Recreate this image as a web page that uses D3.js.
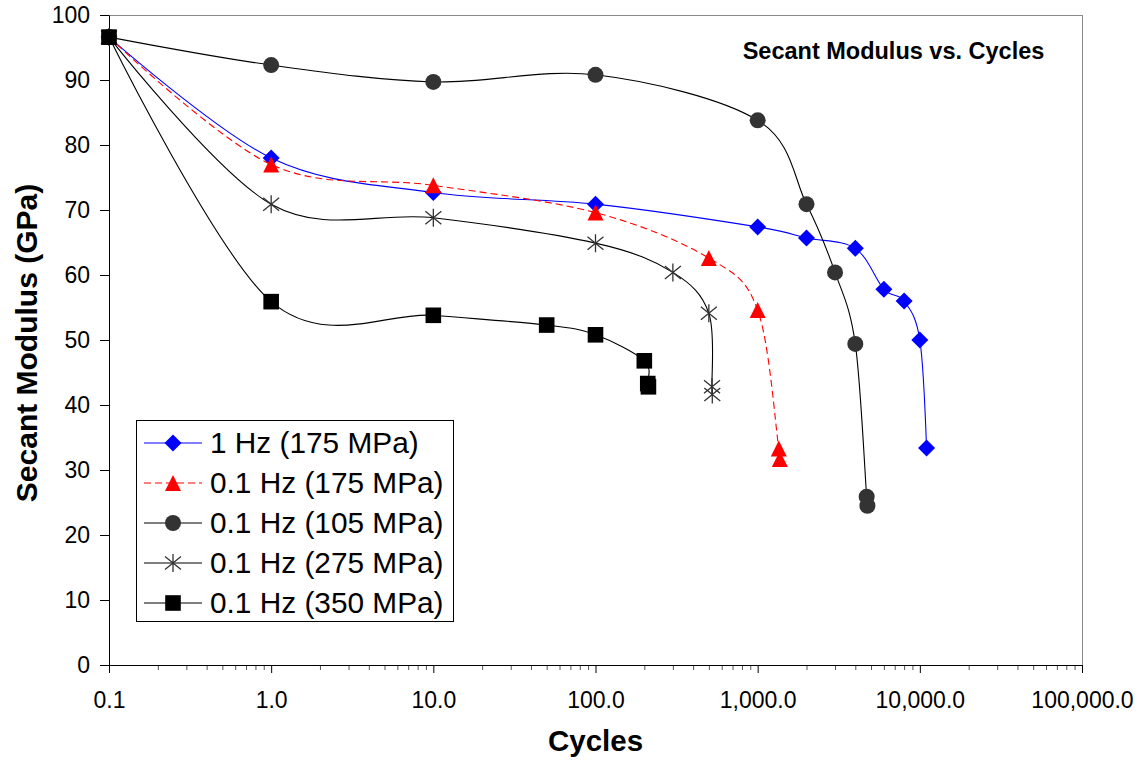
<!DOCTYPE html>
<html>
<head>
<meta charset="utf-8">
<script src="https://cdn.jsdelivr.net/npm/d3@7"></script>
<style>
  body { margin: 0; background: #fff; }
  svg { display: block; font-family: "Liberation Sans", Arial, sans-serif; }
</style>
</head>
<body>
<svg id="chart" width="1142" height="763"></svg>
<script>
// cycles and secant modulus (GPa) for each test condition
const cycles1Hz175 = [0.1, 1, 10, 100, 1000, 2000, 4000, 6000, 8000, 10000, 11000];
const modulus1Hz175 = [96.6, 78.0, 72.7, 70.9, 67.4, 65.7, 64.1, 57.8, 56.0, 50.0, 33.4];

const cycles01Hz175 = [0.1, 1, 10, 100, 500, 1000, 1350, 1370];
const modulus01Hz175 = [96.6, 77.0, 73.8, 69.6, 62.6, 54.6, 33.3, 31.7];

const cycles01Hz105 = [0.1, 1, 10, 100, 1000, 2000, 3000, 4000, 4700, 4750];
const modulus01Hz105 = [96.6, 92.3, 89.7, 90.8, 83.8, 70.9, 60.4, 49.4, 25.9, 24.5];

const cycles01Hz275 = [0.1, 1, 10, 100, 300, 500, 523, 525];
const modulus01Hz275 = [96.6, 70.9, 68.8, 64.9, 60.4, 54.1, 42.8, 41.6];

const cycles01Hz350 = [0.1, 1, 10, 50, 100, 200, 210, 212];
const modulus01Hz350 = [96.6, 55.9, 53.8, 52.3, 50.8, 46.8, 43.3, 42.8];

const xTickValues = [0.1, 1, 10, 100, 1000, 10000, 100000];
const yTickValues = [0, 10, 20, 30, 40, 50, 60, 70, 80, 90, 100];

const series = [
  { name: "1 Hz (175 MPa)", x: cycles1Hz175, y: modulus1Hz175, stroke: "#0000ff", dash: null, marker: "diamond", fill: "#0000ff" },
  { name: "0.1 Hz (175 MPa)", x: cycles01Hz175, y: modulus01Hz175, stroke: "#ff0000", dash: "7,4", marker: "triangle", fill: "#ff0000" },
  { name: "0.1 Hz (105 MPa)", x: cycles01Hz105, y: modulus01Hz105, stroke: "#000", dash: null, marker: "circle", fill: "#333" },
  { name: "0.1 Hz (275 MPa)", x: cycles01Hz275, y: modulus01Hz275, stroke: "#000", dash: null, marker: "asterisk", fill: "#333" },
  { name: "0.1 Hz (350 MPa)", x: cycles01Hz350, y: modulus01Hz350, stroke: "#000", dash: null, marker: "square", fill: "#000" }
];

const svg = d3.select("#chart");
const plot = { left: 109, right: 1082, top: 15, bottom: 665 };

const x = d3.scaleLog().domain([0.1, 100000]).range([plot.left, plot.right]);
const y = d3.scaleLinear().domain([0, 100]).range([plot.bottom, plot.top]);

// plot area frame
svg.append("rect")
  .attr("x", plot.left + 0.5)
  .attr("y", plot.top + 0.5)
  .attr("width", plot.right - plot.left)
  .attr("height", plot.bottom - plot.top)
  .attr("fill", "none")
  .attr("stroke", "#888");

// minor ticks on the log axis
const minorTicks = [];
for (let d = 0.1; d < 100000; d *= 10) {
  for (let k = 2; k <= 9; k++) minorTicks.push(d * k);
}
svg.append("g")
  .attr("transform", `translate(0,${plot.bottom})`)
  .call(d3.axisBottom(x).tickValues(minorTicks).tickSize(5).tickSizeOuter(0).tickFormat(""))
  .call(g => g.select(".domain").remove())
  .call(g => g.selectAll("line").attr("stroke", "#555"));

const xAxis = svg.append("g")
  .attr("transform", `translate(0,${plot.bottom})`)
  .call(d3.axisBottom(x).tickValues(xTickValues).tickSize(8).tickSizeOuter(0)
    .tickPadding(19).tickFormat(d3.format(",.1f")));
xAxis.selectAll("text").attr("font-size", "23px").attr("fill", "#000").attr("font-family", null);
xAxis.selectAll("line, path").attr("stroke", "#000");

const yAxis = svg.append("g")
  .attr("transform", `translate(${plot.left},0)`)
  .call(d3.axisLeft(y).tickValues(yTickValues).tickSize(9).tickSizeOuter(0).tickPadding(10));
yAxis.selectAll("text").attr("font-size", "23px").attr("fill", "#000").attr("font-family", null);
yAxis.selectAll("line, path").attr("stroke", "#000");

// marker shapes, centred on the origin
function drawMarker(g, type, fill) {
  if (type === "circle") {
    g.append("circle").attr("r", 8).attr("fill", fill);
  } else if (type === "square") {
    g.append("rect").attr("x", -7.8).attr("y", -7.8).attr("width", 15.6).attr("height", 15.6).attr("fill", fill);
  } else if (type === "diamond") {
    g.append("path").attr("d", "M0,-8.5L8.5,0L0,8.5L-8.5,0Z").attr("fill", fill);
  } else if (type === "triangle") {
    g.append("path").attr("d", "M0,-8L8,8L-8,8Z").attr("fill", fill);
  } else if (type === "asterisk") {
    g.append("path")
      .attr("d", "M0,-9L0,9M-8,-6.5L8,6.5M-8,6.5L8,-6.5")
      .attr("fill", "none")
      .attr("stroke", fill)
      .attr("stroke-width", 1.3);
  }
}

const line = d3.line()
  .x(d => x(d[0]))
  .y(d => y(d[1]))
  .curve(d3.curveCardinal.tension(0));

series.forEach(s => {
  const pts = s.x.map((c, i) => [c, s.y[i]]);
  const g = svg.append("g");
  g.append("path")
    .datum(pts)
    .attr("d", line)
    .attr("fill", "none")
    .attr("stroke", s.stroke)
    .attr("stroke-width", 1.1)
    .attr("stroke-dasharray", s.dash);
  pts.forEach(p => {
    const m = g.append("g").attr("transform", `translate(${x(p[0])},${y(p[1])})`);
    drawMarker(m, s.marker, s.fill);
  });
});

// title
svg.append("text")
  .attr("x", 893.5)
  .attr("y", 59)
  .attr("text-anchor", "middle")
  .attr("font-weight", "bold")
  .attr("font-size", "23.5px")
  .text("Secant Modulus vs. Cycles");

// axis titles
svg.append("text")
  .attr("x", (plot.left + plot.right) / 2)
  .attr("y", 751)
  .attr("text-anchor", "middle")
  .attr("font-weight", "bold")
  .attr("font-size", "29.5px")
  .text("Cycles");

svg.append("text")
  .attr("transform", "translate(37,343) rotate(-90)")
  .attr("text-anchor", "middle")
  .attr("font-weight", "bold")
  .attr("font-size", "30px")
  .text("Secant Modulus (GPa)");

// legend
const legend = svg.append("g");
legend.append("rect")
  .attr("x", 136.5).attr("y", 420.5)
  .attr("width", 317).attr("height", 201)
  .attr("fill", "#fff").attr("stroke", "#000");

series.forEach((s, i) => {
  const base = 453 + i * 40;
  const cy = base - 10;
  legend.append("line")
    .attr("x1", 144).attr("x2", 202)
    .attr("y1", cy).attr("y2", cy)
    .attr("stroke", s.stroke)
    .attr("stroke-width", 1.1)
    .attr("stroke-dasharray", s.dash);
  const m = legend.append("g").attr("transform", `translate(173,${cy})`);
  drawMarker(m, s.marker, s.fill);
  legend.append("text")
    .attr("x", 210).attr("y", base)
    .attr("font-size", "29.8px")
    .text(s.name);
});
</script>
</body>
</html>
